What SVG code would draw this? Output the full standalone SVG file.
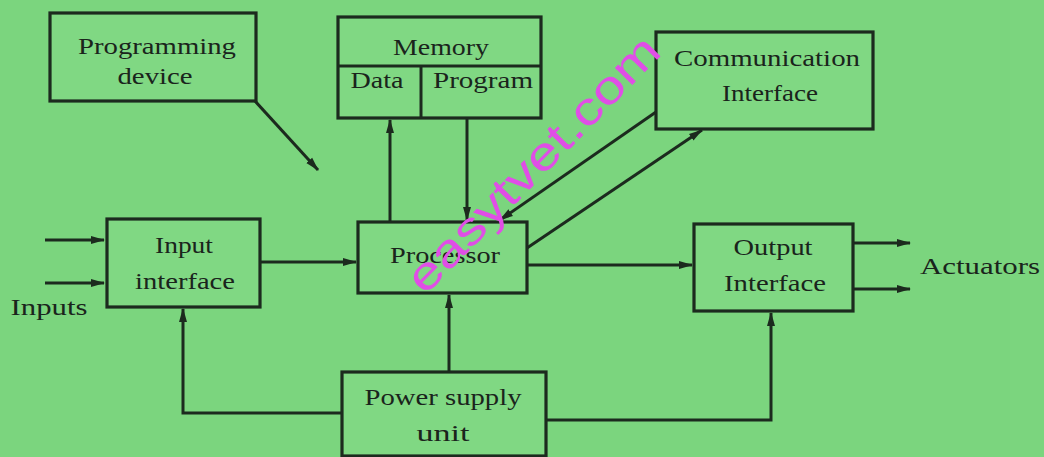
<svg xmlns="http://www.w3.org/2000/svg" width="1044" height="457" viewBox="0 0 1044 457">
<defs>
<style>
.box{fill:#80d883;stroke:#1c2a1e;stroke-width:3.2}
.ln{fill:none;stroke:#1c2a1e;stroke-width:3}
.t{font-family:"Liberation Serif","Times New Roman",serif;font-size:24px;fill:#1a241c;text-anchor:middle}
.wm{font-family:"Liberation Sans",Arial,sans-serif;font-size:46px;fill:#e04ee6}
</style>
<marker id="ah" viewBox="0 0 14 10" refX="13" refY="5" markerWidth="14" markerHeight="10" markerUnits="userSpaceOnUse" orient="auto">
<path d="M0,1 L14,5 L0,9 Z" fill="#1c2a1e"/>
</marker>
</defs>
<rect width="1044" height="457" fill="#7bd57e"/>
<g id="connectors">
<line class="ln" x1="255" y1="101" x2="318" y2="170" marker-end="url(#ah)"/>
<line class="ln" x1="390" y1="222" x2="390" y2="120" marker-end="url(#ah)"/>
<line class="ln" x1="467" y1="118" x2="467" y2="220" marker-end="url(#ah)"/>
<line class="ln" x1="656" y1="112" x2="500" y2="220" marker-end="url(#ah)"/>
<line class="ln" x1="527" y1="248" x2="702" y2="130" marker-end="url(#ah)"/>
<line class="ln" x1="260" y1="262" x2="356" y2="262" marker-end="url(#ah)"/>
<line class="ln" x1="527" y1="265" x2="692" y2="265" marker-end="url(#ah)"/>
<line class="ln" x1="45" y1="240" x2="104" y2="240" marker-end="url(#ah)"/>
<line class="ln" x1="45" y1="283" x2="104" y2="283" marker-end="url(#ah)"/>
<line class="ln" x1="853" y1="243" x2="910" y2="243" marker-end="url(#ah)"/>
<line class="ln" x1="853" y1="289" x2="910" y2="289" marker-end="url(#ah)"/>
<line class="ln" x1="449" y1="372" x2="449" y2="295" marker-end="url(#ah)"/>
<polyline class="ln" points="343,413 183,413 183,309" marker-end="url(#ah)"/>
<polyline class="ln" points="546,420 771,420 771,313" marker-end="url(#ah)"/>
</g>
<g id="programming-device">
<rect class="box" x="50" y="13" width="206" height="88"/>
<text class="t" x="157" y="54" textLength="158" lengthAdjust="spacingAndGlyphs">Programming</text>
<text class="t" x="155" y="84" textLength="75" lengthAdjust="spacingAndGlyphs">device</text>
</g>
<g id="memory">
<rect class="box" x="338" y="17" width="203" height="101"/>
<line class="ln" x1="338" y1="66" x2="541" y2="66"/>
<line class="ln" x1="421" y1="66" x2="421" y2="118"/>
<text class="t" x="441" y="55" textLength="96" lengthAdjust="spacingAndGlyphs">Memory</text>
<text class="t" x="377" y="88" textLength="53" lengthAdjust="spacingAndGlyphs">Data</text>
<text class="t" x="483" y="88" textLength="100" lengthAdjust="spacingAndGlyphs">Program</text>
</g>
<g id="communication-interface">
<rect class="box" x="656" y="32" width="217" height="97"/>
<text class="t" x="767" y="66" textLength="186" lengthAdjust="spacingAndGlyphs">Communication</text>
<text class="t" x="770" y="101" textLength="96" lengthAdjust="spacingAndGlyphs">Interface</text>
</g>
<g id="input-interface">
<rect class="box" x="107" y="219" width="153" height="88"/>
<text class="t" x="184" y="253" textLength="58" lengthAdjust="spacingAndGlyphs">Input</text>
<text class="t" x="185" y="289" textLength="100" lengthAdjust="spacingAndGlyphs">interface</text>
</g>
<g id="processor">
<rect class="box" x="358" y="222" width="169" height="71"/>
<text class="t" x="445" y="263" textLength="110" lengthAdjust="spacingAndGlyphs">Processor</text>
</g>
<g id="output-interface">
<rect class="box" x="694" y="224" width="159" height="87"/>
<text class="t" x="773" y="255" textLength="79" lengthAdjust="spacingAndGlyphs">Output</text>
<text class="t" x="775" y="291" textLength="102" lengthAdjust="spacingAndGlyphs">Interface</text>
</g>
<g id="power-supply-unit">
<rect class="box" x="342" y="372" width="204" height="84"/>
<text class="t" x="443" y="405" textLength="157" lengthAdjust="spacingAndGlyphs">Power supply</text>
<text class="t" x="443" y="441" textLength="53" lengthAdjust="spacingAndGlyphs">unit</text>
</g>
<g id="labels">
<text class="t" x="49" y="315" textLength="77" lengthAdjust="spacingAndGlyphs">Inputs</text>
<text class="t" x="980" y="274" textLength="120" lengthAdjust="spacingAndGlyphs">Actuators</text>
</g>
<g id="watermark">
<text class="wm" x="0" y="0" transform="translate(425,296) rotate(-45.5)" textLength="340" lengthAdjust="spacingAndGlyphs">easytvet.com</text>
</g>
</svg>
